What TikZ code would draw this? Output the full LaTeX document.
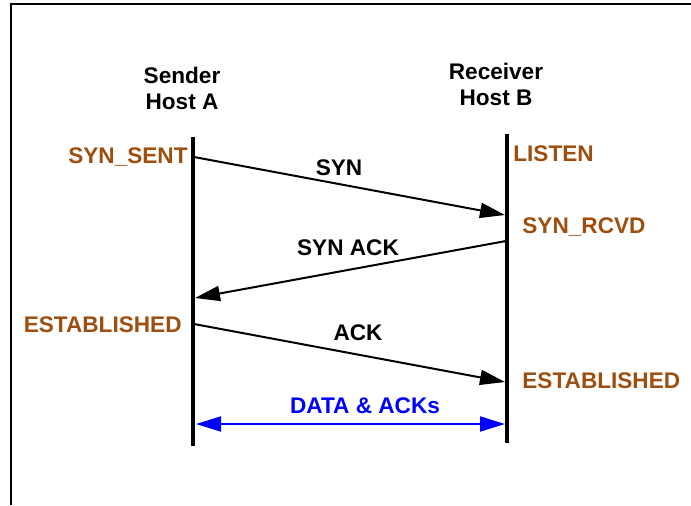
\documentclass[tikz,border=0pt]{standalone}
\usepackage{fontspec}
\setmainfont{Liberation Sans}
\usetikzlibrary{positioning,arrows.meta}
\definecolor{statebrown}{RGB}{158,78,14}
\tikzset {
    style host/.style={
        font=\fontsize{11.3}{13}\selectfont\bfseries,
        text=black,
        inner sep=0pt,
        align=center, % two lines
    },
    style state/.style={
        font=\fontsize{11.3}{13}\selectfont\bfseries,
        text=statebrown,
        inner sep=0pt,
    },
    style msg/.style={
        font=\fontsize{11.3}{13}\selectfont\bfseries,
        text=black,
        inner sep=0pt,
    },
    style life/.style={
        draw=black,
        line width=2pt,
    },
    style arrow/.style={
        draw=black,
        line width=1pt,
        -{Triangle[length=12.5pt,width=7.5pt]},
    },
}

\begin{document}
\begin{tikzpicture}
[x=0.5pt, y=-0.5pt]
\useasboundingbox (0,0) rectangle (691,505);

% frame
\draw[line width=1pt] (11,505) -- (11,4) -- (691,4);

% hosts and lifelines
\node [style host] (sender) at (182,88) {Sender\\Host A};
\node [style host] (receiver) at (496,84) {Receiver\\Host B};
\coordinate (a top) at (193,137);
\coordinate (a bottom) at (193,446);
\coordinate (b top) at (507,134);
\coordinate (b bottom) at (507,443);
\draw [style life] (a top) -- (a bottom);
\draw [style life] (b top) -- (b bottom);

% states
\node [style state, anchor=east] (synsent) at (188,157) {SYN\_SENT};
\node [style state, anchor=west] (listen) at (513,154) {LISTEN};
\node [style state, anchor=west] (synrcvd) at (522,227) {SYN\_RCVD};
\node [style state, anchor=east] (estab a) at (182,325) {ESTABLISHED};
\node [style state, anchor=west] (estab b) at (522,381) {ESTABLISHED};

% handshake
\coordinate (a1) at (194,157);
\coordinate (b1) at (505,215);
\coordinate (b2) at (506,241);
\coordinate (a2) at (195,298);
\coordinate (a3) at (194,324);
\coordinate (b3) at (505,382);
\coordinate (a4) at (196,424);
\coordinate (b4) at (505,424);
\draw [style arrow] (a1) -- (b1);
\draw [style arrow] (b2) -- (a2);
\draw [style arrow] (a3) -- (b3);
\node [style msg] (syn) at (339,168) {SYN};
\node [style msg] (synack) at (348,248) {SYN ACK};
\node [style msg] (ack) at (358,333) {ACK};

% data transfer
\draw [style arrow, draw=blue, {Triangle[length=12.5pt,width=7.5pt]}-{Triangle[length=12.5pt,width=7.5pt]}] (a4) -- (b4);
\node [style msg, text=blue] (data) at (365,406) {DATA \& ACKs};

\end{tikzpicture}
\end{document}
